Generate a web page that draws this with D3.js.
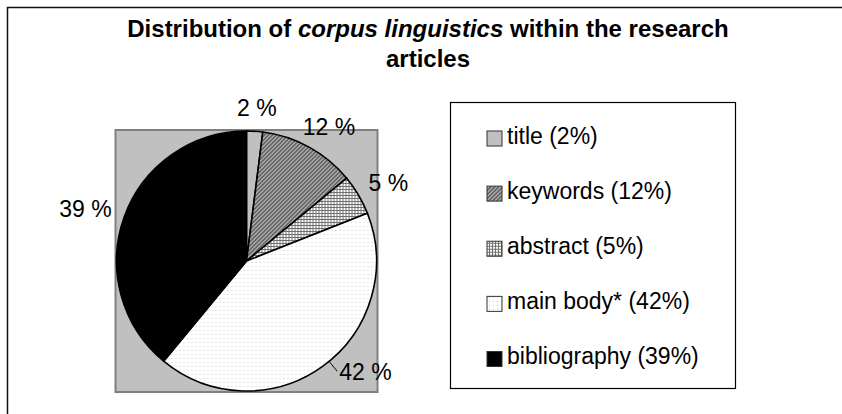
<!DOCTYPE html>
<html>
<head>
<meta charset="utf-8">
<script src="https://cdn.jsdelivr.net/npm/d3@7"></script>
<style>
	body { margin: 0; background: #fff; }
	svg { display: block; font-family: "Liberation Sans", Arial, sans-serif; }
</style>
</head>
<body>
<svg width="842" height="414"></svg>
<script>
// chart data
const categories = ["title", "keywords", "abstract", "main body*", "bibliography"];
const shares = [2, 12, 5, 42, 39];
const sliceLabels = ["2 %", "12 %", "5 %", "42 %", "39 %"];
const fills = ["#c0c0c0", "url(#hatch)", "url(#grid)", "url(#dots)", "#000000"];

const svg = d3.select('svg');
const width = +svg.attr('width');
const height = +svg.attr('height');

// patterns used by the slices
const defs = svg.append('defs');

const hatch = defs.append('pattern')
	.attr('id', 'hatch')
	.attr('patternUnits', 'userSpaceOnUse')
	.attr('width', 4).attr('height', 4);
hatch.append('rect').attr('width', 4).attr('height', 4).attr('fill', '#b4b4b4');
hatch.append('path')
	.attr('d', 'M-1,1 l2,-2 M0,4 l4,-4 M3,5 l2,-2')
	.attr('stroke', '#3c3c3c')
	.attr('stroke-width', 1.2);

const grid = defs.append('pattern')
	.attr('id', 'grid')
	.attr('patternUnits', 'userSpaceOnUse')
	.attr('width', 3).attr('height', 3);
grid.append('rect').attr('width', 3).attr('height', 3).attr('fill', '#ffffff');
grid.append('path')
	.attr('d', 'M0,0.5 h3 M0.5,0 v3')
	.attr('stroke', '#707070')
	.attr('stroke-width', 1);

const dots = defs.append('pattern')
	.attr('id', 'dots')
	.attr('patternUnits', 'userSpaceOnUse')
	.attr('width', 4).attr('height', 4);
dots.append('rect').attr('width', 4).attr('height', 4).attr('fill', '#ffffff');
dots.append('rect').attr('x', 1).attr('y', 1).attr('width', 1).attr('height', 1).attr('fill', '#c8c8c8');

// outer chart frame (runs off the right and bottom edge)
svg.append('rect')
	.attr('x', 7.5).attr('y', 7.5)
	.attr('width', width + 20).attr('height', height + 20)
	.attr('fill', 'none')
	.attr('stroke', '#111')
	.attr('stroke-width', 1.5);

// title
const title = svg.append('text')
	.attr('x', 428)
	.attr('y', 37)
	.attr('text-anchor', 'middle')
	.attr('font-size', 24)
	.attr('font-weight', 'bold')
	.attr('fill', '#000');
title.append('tspan').text('Distribution of ');
title.append('tspan').attr('font-style', 'italic').text('corpus linguistics');
title.append('tspan').text(' within the research');
svg.append('text')
	.attr('x', 428)
	.attr('y', 67)
	.attr('text-anchor', 'middle')
	.attr('font-size', 24)
	.attr('font-weight', 'bold')
	.text('articles');

// pie
const cx = 246.5, cy = 261, radius = 130;

svg.append('rect')
	.attr('x', cx - radius - 1).attr('y', cy - radius - 1)
	.attr('width', 2 * radius + 2).attr('height', 2 * radius + 2)
	.attr('fill', '#c0c0c0')
	.attr('stroke', '#808080')
	.attr('stroke-width', 2);

const pie = d3.pie().sort(null).value(d => d);
const arcs = pie(shares);
const arc = d3.arc().innerRadius(0).outerRadius(radius);

const g = svg.append('g').attr('transform', `translate(${cx},${cy})`);
g.selectAll('path')
	.data(arcs)
	.enter()
	.append('path')
	.attr('d', arc)
	.attr('fill', (d, i) => fills[i])
	.attr('stroke', '#000')
	.attr('stroke-width', 1.6)
	.attr('stroke-linejoin', 'round');

// data labels: box placed just outside the pie along the mid angle
const labelSize = 23;
const capH = labelSize * 0.72;
const measure = svg.append('text').attr('font-size', labelSize);
const gap = 15;
// excel pushed the "main body" label round a bit and drew a leader line
const movedAngle = { "main body*": 136 * Math.PI / 180 };

arcs.forEach((d, i) => {
	measure.text(sliceLabels[i]);
	const w = measure.node().getComputedTextLength();
	const moved = movedAngle[categories[i]] !== undefined;
	const a = moved ? movedAngle[categories[i]] : (d.startAngle + d.endAngle) / 2;
	const px = (radius + gap) * Math.sin(a);
	const py = -(radius + gap) * Math.cos(a);
	const lx = px + w / 2 * Math.sin(a);
	const ly = py - capH / 2 * Math.cos(a);

	g.append('text')
		.attr('x', lx)
		.attr('y', ly + capH / 2)
		.attr('text-anchor', 'middle')
		.attr('font-size', labelSize)
		.attr('fill', '#000')
		.text(sliceLabels[i]);

	if (moved) {
		const ex = lx - w / 2 - 2, ey = ly;
		const dist = Math.hypot(ex, ey);
		g.append('line')
			.attr('x1', ex * radius / dist).attr('y1', ey * radius / dist)
			.attr('x2', ex).attr('y2', ey)
			.attr('stroke', '#000')
			.attr('stroke-width', 1);
	}
});
measure.remove();

// legend
const legend = svg.append('g');
legend.append('rect')
	.attr('x', 450.5).attr('y', 102.5)
	.attr('width', 285).attr('height', 286)
	.attr('fill', '#fff')
	.attr('stroke', '#000')
	.attr('stroke-width', 1.2);

const rowY = d3.scalePoint()
	.domain(categories)
	.range([138.5, 359]);

const items = legend.selectAll('g.item')
	.data(categories)
	.enter()
	.append('g')
	.attr('class', 'item')
	.attr('transform', d => `translate(0,${rowY(d)})`);

items.append('rect')
	.attr('x', 487).attr('y', -7.5)
	.attr('width', 15).attr('height', 15)
	.attr('fill', (d, i) => fills[i])
	.attr('stroke', '#333')
	.attr('stroke-width', 1);

items.append('text')
	.attr('x', 507)
	.attr('y', 5)
	.attr('font-size', 23)
	.attr('fill', '#000')
	.text((d, i) => `${d} (${shares[i]}%)`);
</script>
</body>
</html>
